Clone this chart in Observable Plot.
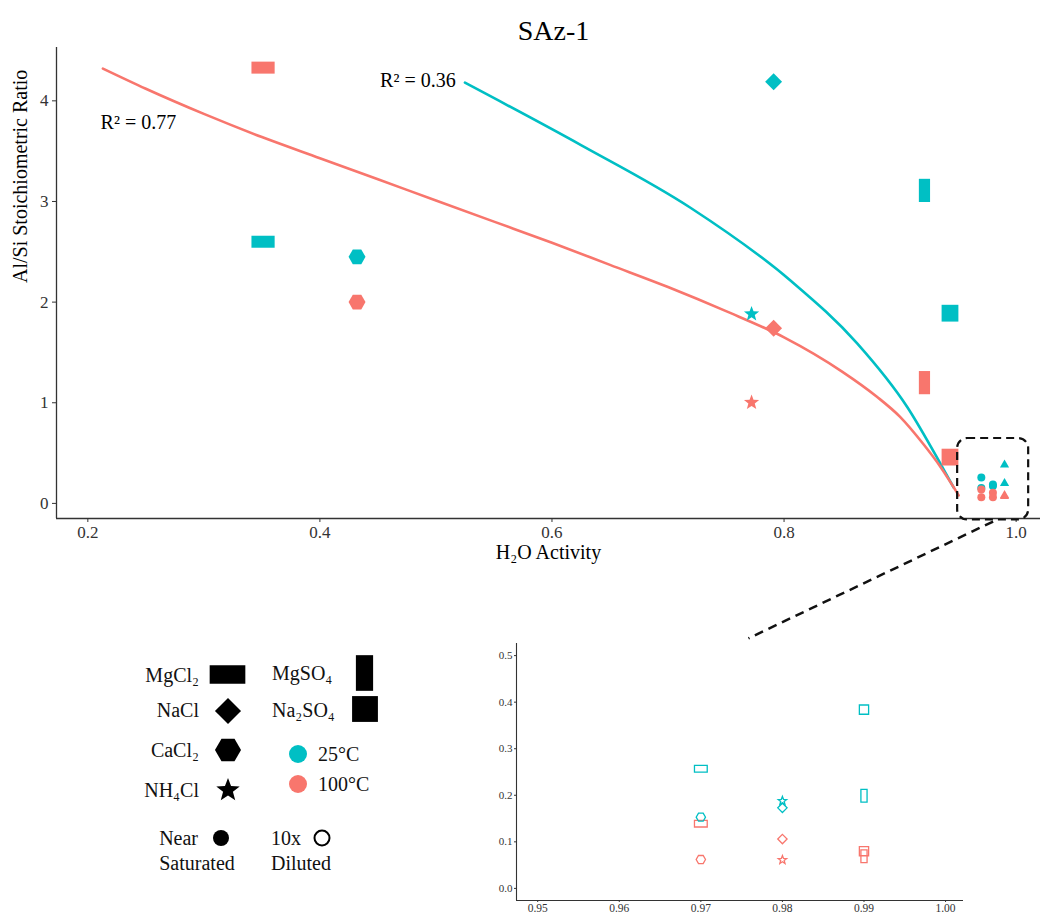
<!DOCTYPE html>
<html>
<head>
<meta charset="utf-8">
<script src="https://cdn.jsdelivr.net/npm/d3@7"></script>
<script src="https://cdn.jsdelivr.net/npm/@observablehq/plot@0.6"></script>
<style>
  body { margin: 0; background: #fff; }
  #fig { position: relative; width: 1047px; height: 915px; font-family: "Liberation Serif", "Times New Roman", serif; }
  #fig > svg { position: absolute; }
</style>
</head>
<body>
<div id="fig"></div>
<script>
// ---- data ----
const salts = ["MgCl₂", "NaCl", "CaCl₂", "NH₄Cl", "MgSO₄", "Na₂SO₄"];
const temps = ["25°C", "100°C"];
const tempColors = ["#00BFC4", "#F8766D"];

// near-saturated brines
const satSalt = ["MgCl₂", "MgCl₂", "CaCl₂", "CaCl₂", "NH₄Cl", "NH₄Cl", "NaCl", "NaCl", "MgSO₄", "MgSO₄", "Na₂SO₄", "Na₂SO₄"];
const satTemp = ["25°C", "100°C", "25°C", "100°C", "25°C", "100°C", "25°C", "100°C", "25°C", "100°C", "25°C", "100°C"];
const satActivity = [0.351, 0.351, 0.432, 0.432, 0.772, 0.772, 0.791, 0.791, 0.921, 0.921, 0.943, 0.943];
const satRatio = [2.60, 4.33, 2.45, 2.00, 1.89, 1.01, 4.19, 1.74, 3.11, 1.20, 1.89, 0.46];

// 10x diluted brines
const dilSalt = ["MgCl₂", "CaCl₂", "MgCl₂", "CaCl₂", "NH₄Cl", "NaCl", "NaCl", "NH₄Cl", "Na₂SO₄", "MgSO₄", "Na₂SO₄", "MgSO₄"];
const dilTemp = ["25°C", "25°C", "100°C", "100°C", "25°C", "25°C", "100°C", "100°C", "25°C", "25°C", "100°C", "100°C"];
const dilActivity = [0.97, 0.97, 0.97, 0.97, 0.98, 0.98, 0.98, 0.98, 0.99, 0.99, 0.99, 0.99];
const dilRatio = [0.257, 0.153, 0.139, 0.062, 0.189, 0.173, 0.106, 0.062, 0.384, 0.199, 0.080, 0.069];

// fitted trend curves
const fit25Activity = [0.525, 0.625, 0.719, 0.806, 0.863, 0.906, 0.9345, 0.946];
const fit25Ratio = [4.18, 3.56, 2.94, 2.21, 1.59, 0.96, 0.40, 0.16];
const fit100Activity = [0.213, 0.25, 0.30, 0.35, 0.40, 0.45, 0.50, 0.55, 0.60, 0.65, 0.70, 0.75, 0.80, 0.85, 0.88, 0.90, 0.92, 0.935, 0.9505];
const fit100Ratio = [4.32, 4.12, 3.87, 3.64, 3.43, 3.22, 3.01, 2.80, 2.59, 2.37, 2.15, 1.91, 1.65, 1.31, 1.06, 0.86, 0.59, 0.36, 0.08];

const fitLabels = ["R² = 0.36", "R² = 0.77"];

const xTicks = [0.2, 0.4, 0.6, 0.8, 1.0];
const yTicks = [0, 1, 2, 3, 4];
const insetXTicks = [0.95, 0.96, 0.97, 0.98, 0.99, 1.00];
const insetYTicks = [0.0, 0.1, 0.2, 0.3, 0.4, 0.5];

// ---- tables ----
const sat = satSalt.map((s, i) => ({salt: s, temp: satTemp[i], aw: satActivity[i], ratio: satRatio[i]}));
const dil = dilSalt.map((s, i) => ({salt: s, temp: dilTemp[i], aw: dilActivity[i], ratio: dilRatio[i]}))
  .sort((a, b) => temps.indexOf(a.temp) - temps.indexOf(b.temp));
const fits = [
  ...fit25Activity.map((a, i) => ({temp: "25°C", aw: a, ratio: fit25Ratio[i]})),
  ...fit100Activity.map((a, i) => ({temp: "100°C", aw: a, ratio: fit100Ratio[i]}))
];
// R² annotations: the 25 °C one ends where its curve begins, the 100 °C one sits under its curve
const label25 = [{text: fitLabels[0], aw: 0.517, ratio: 4.20}];
const label100 = [{text: fitLabels[1], aw: 0.211, ratio: 3.78}];
const zoomBox = {x1: 0.9496, x2: 1.0108, y1: -0.165, y2: 0.645};

// ---- custom symbols (size = πr²) ----
const rad = (size) => Math.sqrt(size / Math.PI);
const rectSym = (wf, hf) => ({draw(ctx, size) { const r = rad(size), w = wf * r, h = hf * r; ctx.rect(-w / 2, -h / 2, w, h); }});
const diamondSym = (k) => ({draw(ctx, size) { const s = k * rad(size); ctx.moveTo(0, -s); ctx.lineTo(s, 0); ctx.lineTo(0, s); ctx.lineTo(-s, 0); ctx.closePath(); }});
const hexSym = (k) => ({draw(ctx, size) { const R = k * rad(size); for (let j = 0; j < 6; ++j) { const a = j * Math.PI / 3; const px = R * Math.cos(a), py = R * Math.sin(a); j ? ctx.lineTo(px, py) : ctx.moveTo(px, py); } ctx.closePath(); }});
const starSym = (k) => ({draw(ctx, size) { const R = k * rad(size), ri = R * 0.42; for (let j = 0; j < 10; ++j) { const a = -Math.PI / 2 + j * Math.PI / 5; const rr = j % 2 ? ri : R; const px = rr * Math.cos(a), py = rr * Math.sin(a) + R * 0.1; j ? ctx.lineTo(px, py) : ctx.moveTo(px, py); } ctx.closePath(); }});
const triSym = (k) => ({draw(ctx, size) { const s = k * rad(size), h = s * Math.sqrt(3) / 2; ctx.moveTo(0, -2 * h / 3); ctx.lineTo(s / 2, h / 3); ctx.lineTo(-s / 2, h / 3); ctx.closePath(); }});

const saltSymbols = {
  "MgCl₂": rectSym(2.9, 1.5),
  "NaCl": diamondSym(1.06),
  "CaCl₂": hexSym(1.06),
  "NH₄Cl": starSym(1.0),
  "MgSO₄": rectSym(1.4, 2.9),
  "Na₂SO₄": rectSym(2.1, 2.1)
};
const overviewSymbol = {"MgCl₂": "circle", "NaCl": "circle", "CaCl₂": "circle", "NH₄Cl": "circle", "MgSO₄": triSym(2.3), "Na₂SO₄": triSym(2.3)};

const serif = `"Liberation Serif", "Times New Roman", serif`;
const axisInk = "#333";
const colorScale = {domain: temps, range: tempColors};

// ---- main chart ----
const main = Plot.plot({
  width: 1047, height: 575,
  marginLeft: 56, marginRight: 7, marginTop: 47, marginBottom: 57,
  style: {fontFamily: serif, background: "transparent", overflow: "visible"},
  x: {domain: [0.173, 1.021]},
  y: {domain: [-0.15, 4.53]},
  color: colorScale,
  marks: [
    Plot.ruleY([-0.15], {stroke: axisInk, strokeWidth: 1.3}),
    Plot.ruleX([0.173], {stroke: axisInk, strokeWidth: 1.3}),
    Plot.axisX({ticks: xTicks, tickFormat: d3.format(".1f"), tickSize: 4, tickPadding: 3, fontSize: 17, label: null, color: axisInk}),
    Plot.axisY({ticks: yTicks, tickFormat: d3.format("d"), tickSize: 4, tickPadding: 4, fontSize: 17, label: null, color: axisInk}),
    Plot.text(["H₂O Activity"], {frameAnchor: "bottom", dy: 40, fontSize: 20}),
    Plot.text(["Al/Si Stoichiometric Ratio"], {frameAnchor: "left", rotate: -90, dx: -36, fontSize: 20}),
    Plot.text(["SAz-1"], {frameAnchor: "top", dy: -27, dx: 5, fontSize: 28}),
    Plot.line(fits, {x: "aw", y: "ratio", z: "temp", stroke: "temp", strokeWidth: 2.6, curve: "monotone-x"}),
    ...salts.map(s => Plot.dot(sat.filter(d => d.salt === s), {x: "aw", y: "ratio", fill: "temp", r: 8, symbol: saltSymbols[s]})),
    ...temps.flatMap(t => salts.map(s => Plot.dot(dil.filter(d => d.salt === s && d.temp === t), {x: "aw", y: "ratio", fill: "temp", r: 4, symbol: overviewSymbol[s]}))),
    Plot.text(label25, {x: "aw", y: "ratio", text: "text", textAnchor: "end", fontSize: 20}),
    Plot.text(label100, {x: "aw", y: "ratio", text: "text", textAnchor: "start", fontSize: 20}),
    Plot.rect([zoomBox], {x1: "x1", x2: "x2", y1: "y1", y2: "y2", rx: 10, fill: "none", stroke: "#111", strokeWidth: 2.2, strokeDasharray: "8,5"})
  ]
});
main.style.left = "0px";
main.style.top = "0px";

// ---- inset: diluted brines near aw = 1 ----
const inset = Plot.plot({
  width: 500, height: 285,
  marginLeft: 46, marginRight: 7, marginTop: 13, marginBottom: 15,
  style: {fontFamily: serif, background: "transparent", overflow: "visible"},
  x: {domain: [0.9474, 1.0022]},
  y: {domain: [-0.026, 0.526]},
  color: colorScale,
  marks: [
    Plot.ruleY([-0.026], {stroke: axisInk, strokeWidth: 1.1}),
    Plot.ruleX([0.9474], {stroke: axisInk, strokeWidth: 1.1}),
    Plot.axisX({ticks: insetXTicks, tickFormat: d3.format(".2f"), tickSize: 2, tickPadding: 1, fontSize: 11.5, label: null, color: axisInk}),
    Plot.axisY({ticks: insetYTicks, tickFormat: d3.format(".1f"), tickSize: 2, tickPadding: 2, fontSize: 11, label: null, color: axisInk}),
    ...salts.map(s => Plot.dot(dil.filter(d => d.salt === s), {x: "aw", y: "ratio", stroke: "temp", fill: "none", strokeWidth: 1.3, r: 4.4, symbol: saltSymbols[s]}))
  ]
});
const insetLeft = 470, insetTop = 630;
inset.style.left = insetLeft + "px";
inset.style.top = insetTop + "px";

const fig = document.getElementById("fig");
fig.append(main, inset);

// ---- overlay: connector and legend ----
const overlay = d3.select(fig).append("svg")
  .attr("width", 1047).attr("height", 915)
  .style("left", "0px").style("top", "0px")
  .style("pointer-events", "none")
  .style("font-family", serif);

const mx = main.scale("x"), my = main.scale("y");
const ix = inset.scale("x"), iy = inset.scale("y");
overlay.append("line")
  .attr("x1", mx.apply(0.9806)).attr("y1", my.apply(zoomBox.y1) + 2)
  .attr("x2", ix.apply(0.9759) + insetLeft).attr("y2", iy.apply(0.536) + insetTop)
  .attr("stroke", "#111").attr("stroke-width", 2.5).attr("stroke-dasharray", "9,6");

const legend = overlay.append("g").attr("font-size", 20).attr("fill", "#111");
const glyph = (sym, cx, cy, r, attrs) => {
  const p = d3.path();
  sym.draw(p, Math.PI * r * r);
  const el = legend.append("path").attr("d", p.toString()).attr("transform", `translate(${cx},${cy})`);
  Object.entries(attrs).forEach(([k, v]) => el.attr(k, v));
};
const label = (text, x, y, anchor) =>
  legend.append("text").attr("x", x).attr("y", y).attr("text-anchor", anchor).attr("dominant-baseline", "central").text(text);

const leftCol = [["MgCl₂", 675, 227.5, 674.5], ["NaCl", 710, 228, 711], ["CaCl₂", 750, 228, 750], ["NH₄Cl", 790, 228, 789]];
leftCol.forEach(([s, ty, gx, gy]) => { label(s, 199, ty, "end"); glyph(saltSymbols[s], gx, gy, 12.3, {fill: "#000"}); });
const rightCol = [["MgSO₄", 673, 364.5, 673], ["Na₂SO₄", 710, 365, 709]];
rightCol.forEach(([s, ty, gx, gy]) => { label(s, 272, ty, "start"); glyph(saltSymbols[s], gx, gy, 12.3, {fill: "#000"}); });

temps.forEach((t, i) => {
  const cy = [754, 784][i];
  legend.append("circle").attr("cx", 298).attr("cy", cy).attr("r", 9).attr("fill", tempColors[i]);
  label(t, 318, cy, "start");
});

label("Near", 198, 838, "end");
label("Saturated", 197, 863, "middle");
legend.append("circle").attr("cx", 221).attr("cy", 838).attr("r", 8).attr("fill", "#000");
label("10x", 271, 838, "start");
label("Diluted", 271, 863, "start");
legend.append("circle").attr("cx", 322).attr("cy", 838).attr("r", 7.5).attr("fill", "none").attr("stroke", "#000").attr("stroke-width", 2);
</script>
</body>
</html>
